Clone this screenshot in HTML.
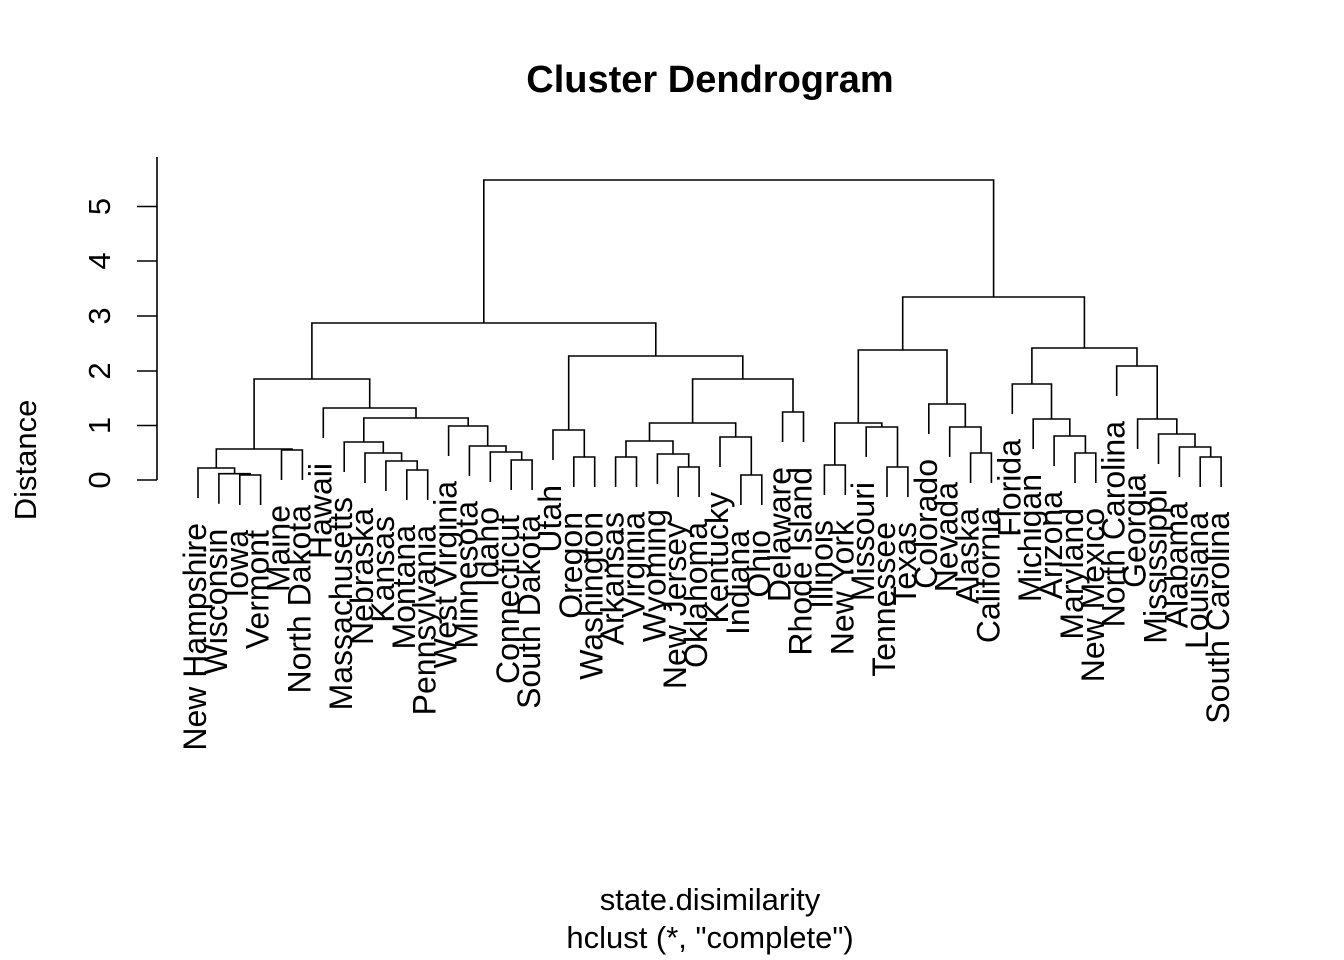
<!DOCTYPE html>
<html><head><meta charset="utf-8"><style>html,body{margin:0;padding:0;background:#fff}svg{display:block}</style></head>
<body>
<svg width="1344" height="960" viewBox="0 0 1344 960" xmlns="http://www.w3.org/2000/svg" font-family="Liberation Sans, Arial, sans-serif">
<rect width="1344" height="960" fill="#fff"/>
<text x="710" y="92" font-size="38" font-weight="bold" text-anchor="middle">Cluster Dendrogram</text>
<text x="710" y="910" font-size="31" text-anchor="middle">state.disimilarity</text>
<text x="710" y="948" font-size="31" text-anchor="middle">hclust (*, "complete")</text>
<text transform="translate(36,460) rotate(-90)" font-size="31" text-anchor="middle">Distance</text>
<g stroke="#000" stroke-width="1.6" fill="none">
<path d="M157 157 V480"/>
<path d="M137 480H157M137 425.5H157M137 371H157M137 316H157M137 261H157M137 206.5H157"/>
</g>
<g font-size="31" text-anchor="middle">
<text transform="translate(110,480) rotate(-90)">0</text>
<text transform="translate(110,425.5) rotate(-90)">1</text>
<text transform="translate(110,371) rotate(-90)">2</text>
<text transform="translate(110,316) rotate(-90)">3</text>
<text transform="translate(110,261) rotate(-90)">4</text>
<text transform="translate(110,206.5) rotate(-90)">5</text>
</g>
<g stroke="#000" stroke-width="1.6" fill="none">
<path d="M239.8 505 V475 H260.6 V505"/>
<path d="M218.9 503.7 V473.7 H250.2 V475"/>
<path d="M198 498 V468 H234.6 V473.7"/>
<path d="M281.5 480 V450 H302.4 V480"/>
<path d="M216.3 468 V449 H292 V450"/>
<path d="M406.8 500 V470 H427.7 V500"/>
<path d="M385.9 491 V461 H417.2 V470"/>
<path d="M365 483 V453 H401.6 V461"/>
<path d="M344.2 472 V442 H383.3 V453"/>
<path d="M511.2 490 V460 H532.1 V490"/>
<path d="M490.3 482 V452 H521.7 V460"/>
<path d="M469.4 476 V446 H506 V452"/>
<path d="M448.6 456 V426 H487.7 V446"/>
<path d="M363.8 442 V418 H468.2 V426"/>
<path d="M323.3 438 V408 H416 V418"/>
<path d="M254.1 449 V379 H369.7 V408"/>
<path d="M573.8 487 V457 H594.7 V487"/>
<path d="M553 460 V430 H584.3 V457"/>
<path d="M615.6 487 V457 H636.5 V487"/>
<path d="M678.2 497 V467 H699.1 V497"/>
<path d="M657.4 484 V454 H688.7 V467"/>
<path d="M626 457 V441 H673 V454"/>
<path d="M740.9 505 V475 H761.8 V505"/>
<path d="M720 467 V437 H751.3 V475"/>
<path d="M649.5 441 V423 H735.7 V437"/>
<path d="M782.6 442 V412 H803.5 V442"/>
<path d="M692.6 423 V379 H793 V412"/>
<path d="M568.7 430 V356 H742.8 V379"/>
<path d="M311.9 379 V323 H655.8 V356"/>
<path d="M824.4 495 V465 H845.3 V495"/>
<path d="M887 497 V467 H907.9 V497"/>
<path d="M866.2 457 V427 H897.5 V467"/>
<path d="M834.8 465 V423 H881.8 V427"/>
<path d="M970.6 483 V453 H991.4 V483"/>
<path d="M949.7 457 V427 H981 V453"/>
<path d="M928.8 434 V404 H965.3 V427"/>
<path d="M858.3 423 V350 H947 V404"/>
<path d="M1075 483 V453 H1095.8 V483"/>
<path d="M1054.1 466 V436 H1085.4 V453"/>
<path d="M1033.2 449 V419 H1069.8 V436"/>
<path d="M1012.3 414 V384 H1051.5 V419"/>
<path d="M1200.2 487 V457 H1221.1 V487"/>
<path d="M1179.4 477 V447 H1210.7 V457"/>
<path d="M1158.5 464 V434 H1195 V447"/>
<path d="M1137.6 449 V419 H1176.8 V434"/>
<path d="M1116.7 396 V366 H1157.2 V419"/>
<path d="M1031.9 384 V348 H1137 V366"/>
<path d="M902.7 350 V297 H1084.4 V348"/>
<path d="M483.8 323 V180 H993.6 V297"/>
</g>
<g font-size="32" text-anchor="end">
<text transform="translate(206,523) rotate(-90)">New Hampshire</text>
<text transform="translate(226.9,528.7) rotate(-90)">Wisconsin</text>
<text transform="translate(247.8,530) rotate(-90)">Iowa</text>
<text transform="translate(268.6,530) rotate(-90)">Vermont</text>
<text transform="translate(289.5,505) rotate(-90)">Maine</text>
<text transform="translate(310.4,505) rotate(-90)">North Dakota</text>
<text transform="translate(331.3,463) rotate(-90)">Hawaii</text>
<text transform="translate(352.2,497) rotate(-90)">Massachusetts</text>
<text transform="translate(373,508) rotate(-90)">Nebraska</text>
<text transform="translate(393.9,516) rotate(-90)">Kansas</text>
<text transform="translate(414.8,525) rotate(-90)">Montana</text>
<text transform="translate(435.7,525) rotate(-90)">Pennsylvania</text>
<text transform="translate(456.6,481) rotate(-90)">West Virginia</text>
<text transform="translate(477.4,501) rotate(-90)">Minnesota</text>
<text transform="translate(498.3,507) rotate(-90)">Idaho</text>
<text transform="translate(519.2,515) rotate(-90)">Connecticut</text>
<text transform="translate(540.1,515) rotate(-90)">South Dakota</text>
<text transform="translate(561,485) rotate(-90)">Utah</text>
<text transform="translate(581.8,512) rotate(-90)">Oregon</text>
<text transform="translate(602.7,512) rotate(-90)">Washington</text>
<text transform="translate(623.6,512) rotate(-90)">Arkansas</text>
<text transform="translate(644.5,512) rotate(-90)">Virginia</text>
<text transform="translate(665.4,509) rotate(-90)">Wyoming</text>
<text transform="translate(686.2,522) rotate(-90)">New Jersey</text>
<text transform="translate(707.1,522) rotate(-90)">Oklahoma</text>
<text transform="translate(728,492) rotate(-90)">Kentucky</text>
<text transform="translate(748.9,530) rotate(-90)">Indiana</text>
<text transform="translate(769.8,530) rotate(-90)">Ohio</text>
<text transform="translate(790.6,467) rotate(-90)">Delaware</text>
<text transform="translate(811.5,467) rotate(-90)">Rhode Island</text>
<text transform="translate(832.4,520) rotate(-90)">Illinois</text>
<text transform="translate(853.3,520) rotate(-90)">New York</text>
<text transform="translate(874.2,482) rotate(-90)">Missouri</text>
<text transform="translate(895,522) rotate(-90)">Tennessee</text>
<text transform="translate(915.9,522) rotate(-90)">Texas</text>
<text transform="translate(936.8,459) rotate(-90)">Colorado</text>
<text transform="translate(957.7,482) rotate(-90)">Nevada</text>
<text transform="translate(978.6,508) rotate(-90)">Alaska</text>
<text transform="translate(999.4,508) rotate(-90)">California</text>
<text transform="translate(1020.3,439) rotate(-90)">Florida</text>
<text transform="translate(1041.2,474) rotate(-90)">Michigan</text>
<text transform="translate(1062.1,491) rotate(-90)">Arizona</text>
<text transform="translate(1083,508) rotate(-90)">Maryland</text>
<text transform="translate(1103.8,508) rotate(-90)">New Mexico</text>
<text transform="translate(1124.7,421) rotate(-90)">North Carolina</text>
<text transform="translate(1145.6,474) rotate(-90)">Georgia</text>
<text transform="translate(1166.5,489) rotate(-90)">Mississippi</text>
<text transform="translate(1187.4,502) rotate(-90)">Alabama</text>
<text transform="translate(1208.2,512) rotate(-90)">Louisiana</text>
<text transform="translate(1229.1,512) rotate(-90)">South Carolina</text>
</g>
</svg>
</body></html>
